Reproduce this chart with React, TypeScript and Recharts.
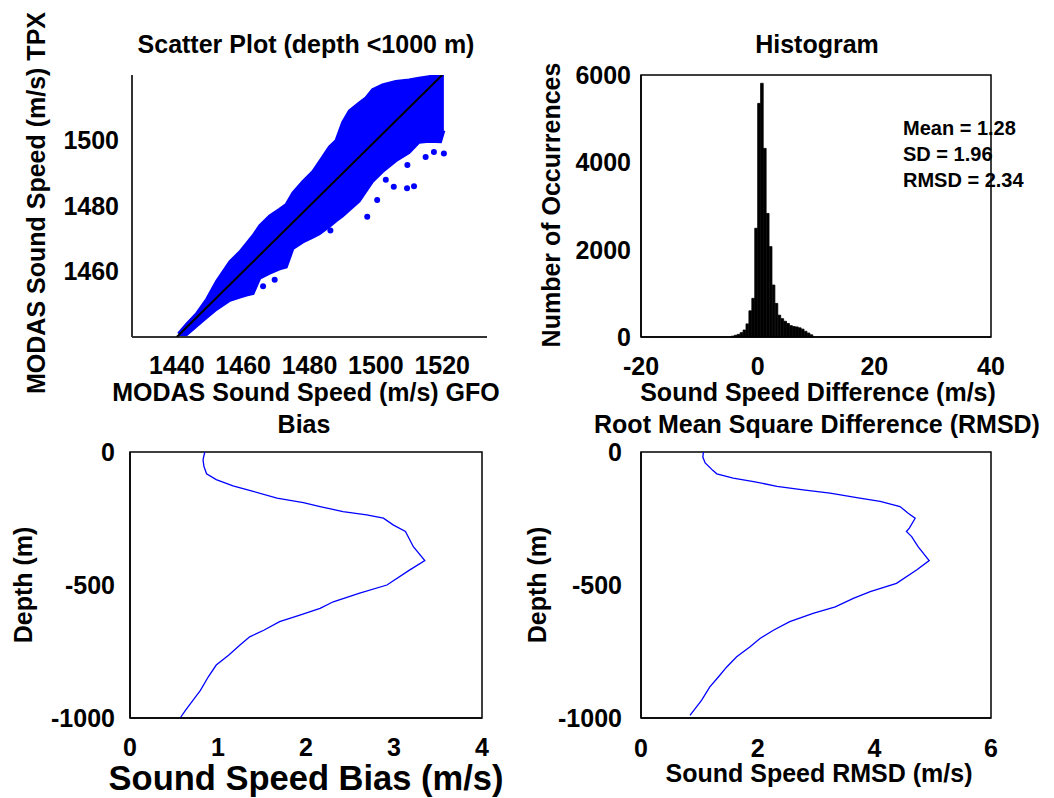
import {
  ComposedChart,
  BarChart,
  LineChart,
  Area,
  Bar,
  Line,
  Scatter,
  XAxis,
  YAxis,
  ReferenceArea,
} from "recharts";

const FONT = "'Liberation Sans', Arial, Helvetica, sans-serif";
const BLUE = "#0000ff";

// Scatter plot: outline of the GFO vs TPX point cloud
const cloudGfo = [1440.5, 1443, 1446, 1449, 1452, 1456, 1459, 1461, 1463, 1465, 1468, 1471, 1473, 1475, 1478, 1481, 1483, 1486, 1488, 1490, 1492, 1495, 1497, 1499, 1502, 1506, 1510, 1513, 1516, 1519.5, 1520.5];
const cloudTpxLow = [1439.8, 1440.8, 1443.4, 1446, 1448.5, 1451.2, 1452.2, 1452.8, 1453.3, 1458, 1459.5, 1460.8, 1461.4, 1467, 1469, 1470.5, 1471.5, 1473.8, 1475.5, 1477, 1478.8, 1481.5, 1484.5, 1487.5, 1490.5, 1493.8, 1496.3, 1499.5, 1499.8, 1499.6, 1503];
const cloudTpxHigh = [1441, 1444, 1447.2, 1451.5, 1457, 1463, 1466, 1468.5, 1471, 1474, 1477, 1479, 1480.5, 1484, 1487.5, 1490.5, 1493.5, 1498, 1500, 1505.5, 1509, 1511.5, 1513, 1515.5, 1517, 1518, 1518.5, 1519, 1519.5, 1520, 1520];
// stray points outside the main cloud
const strayGfo = [1509.4, 1511.5, 1505.4, 1500.4, 1497.4, 1515, 1517.5, 1486.3, 1509.5, 1503, 1466, 1469.5, 1520.5];
const strayTpx = [1485.4, 1486, 1485.9, 1481.8, 1476.7, 1495, 1496.5, 1472.5, 1492.5, 1488, 1455.5, 1457.5, 1496];
const oneToOne = [1440, 1520];

// Histogram of sound speed differences (0.5 m/s bins)
const histBins = [-4.25, -3.75, -3.25, -2.75, -2.25, -1.75, -1.25, -0.75, -0.25, 0.25, 0.75, 1.25, 1.75, 2.25, 2.75, 3.25, 3.75, 4.25, 4.75, 5.25, 5.75, 6.25, 6.75, 7.25, 7.75, 8.25, 8.75, 9.25];
const histCounts = [20, 40, 60, 100, 160, 300, 600, 885, 2490, 5350, 5810, 4320, 2830, 2070, 1190, 770, 500, 420, 360, 310, 260, 240, 230, 210, 180, 130, 90, 50];
const histStats = ["Mean = 1.28", "SD = 1.96", "RMSD = 2.34"];

// Bias profile
const biasDepth = [0, -29, -54, -82, -104, -127, -148, -173, -190, -205, -224, -236, -249, -274, -299, -356, -408, -443, -500, -531, -563, -588, -613, -638, -670, -695, -726, -764, -801, -845, -896, -940, -971, -1000];
const biasValue = [0.85, 0.83, 0.84, 0.87, 0.98, 1.17, 1.4, 1.67, 1.97, 2.16, 2.42, 2.69, 2.88, 2.99, 3.13, 3.22, 3.35, 3.18, 2.92, 2.61, 2.31, 2.16, 1.93, 1.7, 1.52, 1.36, 1.25, 1.12, 0.98, 0.89, 0.8, 0.7, 0.63, 0.57];

// RMSD profile
const rmsdDepth = [0, -19, -41, -69, -82, -98, -111, -129, -142, -155, -173, -186, -205, -230, -249, -286, -299, -318, -356, -408, -443, -494, -525, -550, -582, -607, -638, -670, -701, -732, -770, -808, -845, -883, -933, -990];
const rmsdValue = [1.07, 1.06, 1.1, 1.23, 1.3, 1.58, 1.93, 2.33, 2.78, 3.24, 3.75, 4.1, 4.44, 4.58, 4.7, 4.6, 4.55, 4.64, 4.75, 4.94, 4.73, 4.38, 3.93, 3.64, 3.33, 2.95, 2.55, 2.27, 2.04, 1.87, 1.64, 1.47, 1.33, 1.18, 1.04, 0.84];

const scatterXTicks = [1440, 1460, 1480, 1500, 1520];
const scatterYTicks = [1460, 1480, 1500];
const histXTicks = [-20, 0, 20, 40];
const histYTicks = [0, 2000, 4000, 6000];
const depthTicks = [-1000, -500, 0];
const biasTicks = [0, 1, 2, 3, 4];
const rmsdTicks = [0, 2, 4, 6];

const cloudRows = cloudGfo.map((x, i) => ({ x, range: [cloudTpxLow[i], cloudTpxHigh[i]] }));
const strayRows = strayGfo.map((x, i) => ({ x, y: strayTpx[i] }));
const lineRows = oneToOne.map((v) => ({ x: v, y: v }));
const histRows = histBins.map((bin, i) => ({ bin, count: histCounts[i] }));
const biasRows = biasDepth.map((depth, i) => ({ depth, value: biasValue[i] }));
const rmsdRows = rmsdDepth.map((depth, i) => ({ depth, value: rmsdValue[i] }));

const tickStyle = { fontSize: 25, fontWeight: 700, fill: "#000", fontFamily: FONT };
const axisStroke = { stroke: "#000", strokeWidth: 1.5 };

function Dot(p: any) {
  return <circle cx={p.cx} cy={p.cy} r={3} fill={BLUE} />;
}

export default function App() {
  return (
    <div
      style={{
        position: "absolute",
        left: 0,
        top: 0,
        width: 1054,
        height: 798,
        background: "#fff",
        overflow: "hidden",
      }}
    >
      {/* Scatter plot */}
      <div style={{ position: "absolute", left: 0, top: 0 }}>
        <ComposedChart width={527} height={400} data={cloudRows} margin={{ top: 75, right: 40, bottom: 0, left: 0 }}>
          <XAxis
            type="number"
            dataKey="x"
            domain={[1426.5, 1533.5]}
            ticks={scatterXTicks}
            allowDataOverflow
            height={63}
            tickLine={false}
            tickMargin={13}
            tick={tickStyle}
            axisLine={{ stroke: "#333", strokeWidth: 2 }}
          />
          <YAxis
            type="number"
            dataKey="y"
            domain={[1440, 1520]}
            ticks={scatterYTicks}
            allowDataOverflow
            width={132}
            tickLine={false}
            tickSize={0}
            tickMargin={13}
            tick={tickStyle}
            axisLine={{ stroke: "#333", strokeWidth: 2 }}
          />
          <Area type="linear" dataKey="range" fill={BLUE} fillOpacity={1} stroke={BLUE} strokeWidth={3} isAnimationActive={false} />
          <Scatter data={strayRows} shape={Dot} isAnimationActive={false} />
          <Scatter data={lineRows} line={{ stroke: "#000", strokeWidth: 2 }} shape={() => <g />} isAnimationActive={false} />
        </ComposedChart>
      </div>

      {/* Histogram */}
      <div style={{ position: "absolute", left: 527, top: 0 }}>
        <BarChart width={527} height={400} data={histRows} barCategoryGap={0} barGap={0} margin={{ top: 75, right: 63, bottom: 0, left: 0 }}>
          <XAxis
            type="number"
            dataKey="bin"
            domain={[-20, 40]}
            ticks={histXTicks}
            height={63}
            tickLine={false}
            tickMargin={14}
            tick={tickStyle}
            axisLine={axisStroke}
          />
          <YAxis
            type="number"
            domain={[0, 6000]}
            ticks={histYTicks}
            width={114}
            tickLine={false}
            tickSize={0}
            tickMargin={10}
            tick={tickStyle}
            axisLine={axisStroke}
          />
          <ReferenceArea x1={-20} x2={40} y1={0} y2={6000} fill="none" stroke="#000" strokeWidth={1.5} />
          <Bar dataKey="count" fill="#000" stroke="#000" strokeWidth={0.8} barSize={3} isAnimationActive={false} />
        </BarChart>
      </div>

      {/* Bias profile */}
      <div style={{ position: "absolute", left: 0, top: 400 }}>
        <LineChart layout="vertical" width={527} height={398} data={biasRows} margin={{ top: 52, right: 45, bottom: 0, left: 0 }}>
          <XAxis type="number" domain={[0, 4]} ticks={biasTicks} height={80} tickLine={false} tickMargin={14} tick={tickStyle} axisLine={axisStroke} />
          <YAxis type="number" dataKey="depth" domain={[-1000, 0]} ticks={depthTicks} reversed width={130} tickLine={false} tickSize={0} tickMargin={15} tick={tickStyle} axisLine={axisStroke} />
          <ReferenceArea x1={0} x2={4} y1={-1000} y2={0} fill="none" stroke="#000" strokeWidth={1.5} />
          <Line dataKey="value" stroke={BLUE} strokeWidth={1.3} dot={false} isAnimationActive={false} />
        </LineChart>
      </div>

      {/* RMSD profile */}
      <div style={{ position: "absolute", left: 527, top: 400 }}>
        <LineChart layout="vertical" width={527} height={398} data={rmsdRows} margin={{ top: 52, right: 63, bottom: 0, left: 0 }}>
          <XAxis type="number" domain={[0, 6]} ticks={rmsdTicks} height={80} tickLine={false} tickMargin={15} tick={tickStyle} axisLine={axisStroke} />
          <YAxis type="number" dataKey="depth" domain={[-1000, 0]} ticks={depthTicks} reversed width={114} tickLine={false} tickSize={0} tickMargin={19} tick={tickStyle} axisLine={axisStroke} />
          <ReferenceArea x1={0} x2={6} y1={-1000} y2={0} fill="none" stroke="#000" strokeWidth={1.5} />
          <Line dataKey="value" stroke={BLUE} strokeWidth={1.3} dot={false} isAnimationActive={false} />
        </LineChart>
      </div>

      {/* titles and axis labels */}
      <svg
        width={1054}
        height={798}
        style={{ position: "absolute", left: 0, top: 0, pointerEvents: "none" }}
        fontFamily={FONT}
        fontWeight={700}
        fill="#000"
      >
        <text x={306} y={53} fontSize={25} textAnchor="middle">Scatter Plot (depth &lt;1000 m)</text>
        <text x={306} y={401} fontSize={25} textAnchor="middle">MODAS Sound Speed (m/s) GFO</text>
        <text x={45} y={203} fontSize={25} textAnchor="middle" transform="rotate(-90 45 203)">MODAS Sound Speed (m/s) TPX</text>

        <text x={817} y={53} fontSize={25} textAnchor="middle">Histogram</text>
        <text x={818} y={401} fontSize={25} textAnchor="middle">Sound Speed Difference (m/s)</text>
        <text x={560} y={205} fontSize={25} textAnchor="middle" transform="rotate(-90 560 205)">Number of Occurrences</text>
        {histStats.map((s, i) => (
          <text key={s} x={903} y={135 + i * 26} fontSize={20}>{s}</text>
        ))}

        <text x={304} y={433} fontSize={25} textAnchor="middle">Bias</text>
        <text x={306} y={790} fontSize={34.5} textAnchor="middle">Sound Speed Bias (m/s)</text>
        <text x={32} y={585} fontSize={25} textAnchor="middle" transform="rotate(-90 32 585)">Depth (m)</text>

        <text x={817} y={433} fontSize={25} textAnchor="middle">Root Mean Square Difference (RMSD)</text>
        <text x={819} y={782} fontSize={25} textAnchor="middle">Sound Speed RMSD (m/s)</text>
        <text x={546} y={585} fontSize={25} textAnchor="middle" transform="rotate(-90 546 585)">Depth (m)</text>
      </svg>
    </div>
  );
}
